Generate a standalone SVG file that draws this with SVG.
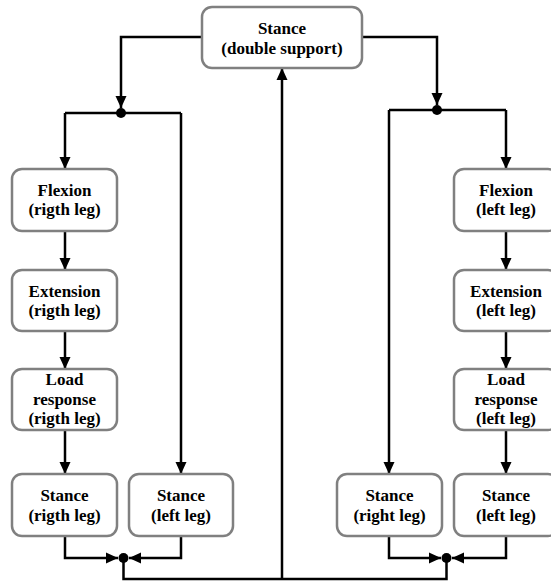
<svg xmlns="http://www.w3.org/2000/svg" width="551" height="581" viewBox="0 0 551 581">
  <style>
    .box { fill: #ffffff; stroke: #808080; stroke-width: 2.5; }
    .lbl { font-family: 'Liberation Serif', 'Times New Roman', serif; font-weight: bold; font-size: 17px; fill: #000000; text-anchor: middle; }
    .wire { fill: none; stroke: #000000; stroke-width: 2.5; }
    .arr { marker-end: url(#head); }
    .dot { fill: #000000; }
  </style>
  <defs>
    <marker id="head" viewBox="0 0 12 12" refX="12" refY="6" markerWidth="12" markerHeight="12" markerUnits="userSpaceOnUse" orient="auto">
      <path d="M0,0.5 L12,6 L0,11.5 z" fill="#000000"/>
    </marker>
  </defs>

  <rect width="551" height="581" fill="#ffffff"/>

  <!-- connectors -->
  <g id="connectors">
    <!-- split from double support to the right-leg branch -->
    <polyline class="wire arr" points="202,37 121,37 121,108"/>
    <circle class="dot" cx="121" cy="113" r="5"/>
    <line class="wire" x1="65" y1="113" x2="181" y2="113"/>
    <polyline class="wire arr" points="65,113 65,169"/>
    <polyline class="wire arr" points="181,113 181,474"/>
    <line class="wire arr" x1="65" y1="231" x2="65" y2="270"/>
    <line class="wire arr" x1="65" y1="331" x2="65" y2="369"/>
    <line class="wire arr" x1="65" y1="430" x2="65" y2="474"/>
    <polyline class="wire arr" points="65,536 65,558 118,558"/>
    <polyline class="wire arr" points="181,536 181,558 129,558"/>
    <circle class="dot" cx="123.5" cy="558" r="5"/>

    <!-- split from double support to the left-leg branch -->
    <polyline class="wire arr" points="362,37 437,37 437,105"/>
    <circle class="dot" cx="437" cy="110" r="5"/>
    <line class="wire" x1="389" y1="110" x2="506" y2="110"/>
    <polyline class="wire arr" points="506,110 506,169"/>
    <polyline class="wire arr" points="389,110 389,474"/>
    <line class="wire arr" x1="506" y1="231" x2="506" y2="270"/>
    <line class="wire arr" x1="506" y1="331" x2="506" y2="369"/>
    <line class="wire arr" x1="506" y1="430" x2="506" y2="474"/>
    <polyline class="wire arr" points="389,536 389,558 441,558"/>
    <polyline class="wire arr" points="506,536 506,558 452,558"/>
    <circle class="dot" cx="446.5" cy="558" r="5"/>

    <!-- return to double support -->
    <polyline class="wire" points="123.5,558 123.5,579 446.5,579 446.5,558"/>
    <line class="wire arr" x1="282" y1="579" x2="282" y2="68"/>
  </g>

  <!-- nodes -->
  <g id="stance-double">
    <rect class="box" x="202" y="7" width="160" height="61" rx="10"/>
    <text class="lbl" x="282" y="34">Stance</text>
    <text class="lbl" x="282" y="54">(double support)</text>
  </g>

  <g id="flexion-right">
    <rect class="box" x="12" y="169" width="105" height="62" rx="10"/>
    <text class="lbl" x="64.5" y="196">Flexion</text>
    <text class="lbl" x="64.5" y="215">(rigth leg)</text>
  </g>
  <g id="extension-right">
    <rect class="box" x="12" y="270" width="105" height="61" rx="10"/>
    <text class="lbl" x="64.5" y="297">Extension</text>
    <text class="lbl" x="64.5" y="316">(rigth leg)</text>
  </g>
  <g id="load-right">
    <rect class="box" x="12" y="369" width="105" height="61" rx="10"/>
    <text class="lbl" x="64.5" y="385">Load</text>
    <text class="lbl" x="64.5" y="405">response</text>
    <text class="lbl" x="64.5" y="424">(rigth leg)</text>
  </g>
  <g id="stance-right-a">
    <rect class="box" x="12" y="474" width="105" height="62" rx="10"/>
    <text class="lbl" x="64.5" y="501">Stance</text>
    <text class="lbl" x="64.5" y="521">(rigth leg)</text>
  </g>
  <g id="stance-left-a">
    <rect class="box" x="129" y="474" width="104" height="62" rx="10"/>
    <text class="lbl" x="181" y="501">Stance</text>
    <text class="lbl" x="181" y="521">(left leg)</text>
  </g>

  <g id="flexion-left">
    <rect class="box" x="454" y="169" width="104" height="62" rx="10"/>
    <text class="lbl" x="506" y="196">Flexion</text>
    <text class="lbl" x="506" y="215">(left leg)</text>
  </g>
  <g id="extension-left">
    <rect class="box" x="454" y="270" width="104" height="61" rx="10"/>
    <text class="lbl" x="506" y="297">Extension</text>
    <text class="lbl" x="506" y="316">(left leg)</text>
  </g>
  <g id="load-left">
    <rect class="box" x="454" y="369" width="104" height="61" rx="10"/>
    <text class="lbl" x="506" y="385">Load</text>
    <text class="lbl" x="506" y="405">response</text>
    <text class="lbl" x="506" y="424">(left leg)</text>
  </g>
  <g id="stance-right-b">
    <rect class="box" x="337" y="474" width="105" height="62" rx="10"/>
    <text class="lbl" x="389.5" y="501">Stance</text>
    <text class="lbl" x="389.5" y="521">(right leg)</text>
  </g>
  <g id="stance-left-b">
    <rect class="box" x="454" y="474" width="104" height="62" rx="10"/>
    <text class="lbl" x="506" y="501">Stance</text>
    <text class="lbl" x="506" y="521">(left leg)</text>
  </g>
</svg>
